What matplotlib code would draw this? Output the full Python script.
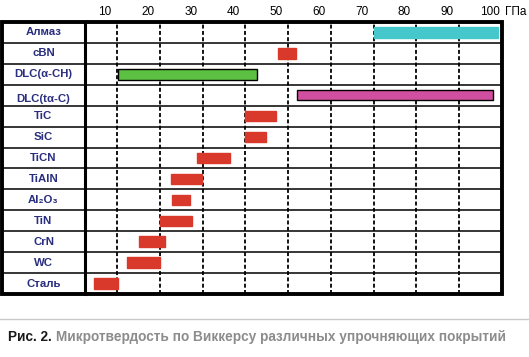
import matplotlib.pyplot as plt
from matplotlib import transforms
from matplotlib.patches import Rectangle
from matplotlib.lines import Line2D

plt.rcParams['font.family'] = ['Liberation Sans', 'DejaVu Sans']

# Покрытия (сверху вниз) и диапазоны микротвердости, ГПа
materials = ['Алмаз', 'cBN', 'DLC(α-CH)', 'DLC(tα-C)', 'TiC', 'SiC', 'TiCN',
             'TiAlN', 'Al₂O₃', 'TiN', 'CrN', 'WC', 'Сталь']
hv_min = [70, 47.7, 10.2, 52, 39.8, 40, 28.8, 22.6, 22.9, 20.1, 15.2, 12.4, 4.6]
hv_max = [99, 51.9, 42.8, 98, 47.2, 44.9, 36.3, 29.9, 27.1, 27.6, 21.2, 20.1, 10.2]
bar_colors = ['#45c7cb', '#d8392b', '#5cc043', '#d14fa0', '#d8392b', '#d8392b',
              '#d8392b', '#d8392b', '#d8392b', '#d8392b', '#d8392b', '#d8392b',
              '#d8392b']
tick_vals = [10, 20, 30, 40, 50, 60, 70, 80, 90, 100]

W, H = 529, 357
fig = plt.figure(figsize=(W / 100, H / 100), dpi=100)

def rect(x0, y0, x1, y1):
    # пиксели картинки -> доли фигуры
    return [x0 / W, 1 - y1 / H, (x1 - x0) / W, (y1 - y0) / H]

ax = fig.add_axes(rect(85, 22, 502, 294))
lab = fig.add_axes(rect(2, 22, 85, 294))

n = len(materials)
ax.set_xlim(2.5, 100)
ax.set_ylim(n, 0)
lab.set_xlim(0, 1)
lab.set_ylim(n, 0)

for a in (ax, lab):
    a.set_xticks([])
    a.set_yticks([])
    for s in a.spines.values():
        s.set_visible(False)

# вертикальные пунктирные линии сетки
for v in tick_vals[:-1]:
    ax.axvline(v, color='black', lw=1.3, ls=(0, (2.2, 1.3)), zorder=1)

# горизонтальные разделители строк
for i in range(1, n):
    ax.axhline(i, color='black', lw=1.1, zorder=2)
    lab.axhline(i, color='black', lw=1.1)

# полосы
for i in range(n):
    edge = 'black' if materials[i].startswith('DLC') else bar_colors[i]
    ax.barh(i + 0.5, hv_max[i] - hv_min[i], left=hv_min[i], height=0.5,
            color=bar_colors[i], edgecolor=edge, lw=1, zorder=3)
    dy = 0.2 if materials[i] == 'DLC(tα-C)' else 0
    lab.text(0.5, i + 0.5 + dy, materials[i], ha='center', va='center',
             fontsize=8.2, fontweight='bold', color='#2a2e7e')

# подписи шкалы сверху
tr = transforms.offset_copy(ax.get_xaxis_transform(), fig=fig, x=-12, y=10,
                            units='dots')
for v in tick_vals:
    ax.text(v, 1, str(v), transform=tr, ha='center', va='center',
            fontsize=8.5, color='black')
tr2 = transforms.offset_copy(ax.get_xaxis_transform(), fig=fig, x=3, y=10,
                             units='dots')
ax.text(100, 1, 'ГПа', transform=tr2, ha='left', va='center',
        fontsize=8.5, color='black')

# рамки
fig.add_artist(Rectangle((2 / W, 1 - 294 / H), 500 / W, 272 / H,
                         transform=fig.transFigure, fill=False,
                         edgecolor='black', lw=2.8))
fig.add_artist(Line2D([85 / W, 85 / W], [1 - 22 / H, 1 - 294 / H],
                      transform=fig.transFigure, color='black', lw=2.2))

# подпись к рисунку
fig.add_artist(Line2D([0, 1], [1 - 319 / H, 1 - 319 / H],
                      transform=fig.transFigure, color='#c8c8c8', lw=1))
t = fig.text(8 / W, 1 - 337 / H, 'Рис. 2. ', fontsize=9.8, fontweight='bold',
             color='#1a1a1a', va='center')
fig.canvas.draw()
bb = t.get_window_extent()
fig.text(bb.x1 / W, 1 - 337 / H,
         'Микротвердость по Виккерсу различных упрочняющих покрытий',
         fontsize=9.8, fontweight='bold', color='#8c8c8c', va='center')

fig.savefig('out.png', dpi=100)
